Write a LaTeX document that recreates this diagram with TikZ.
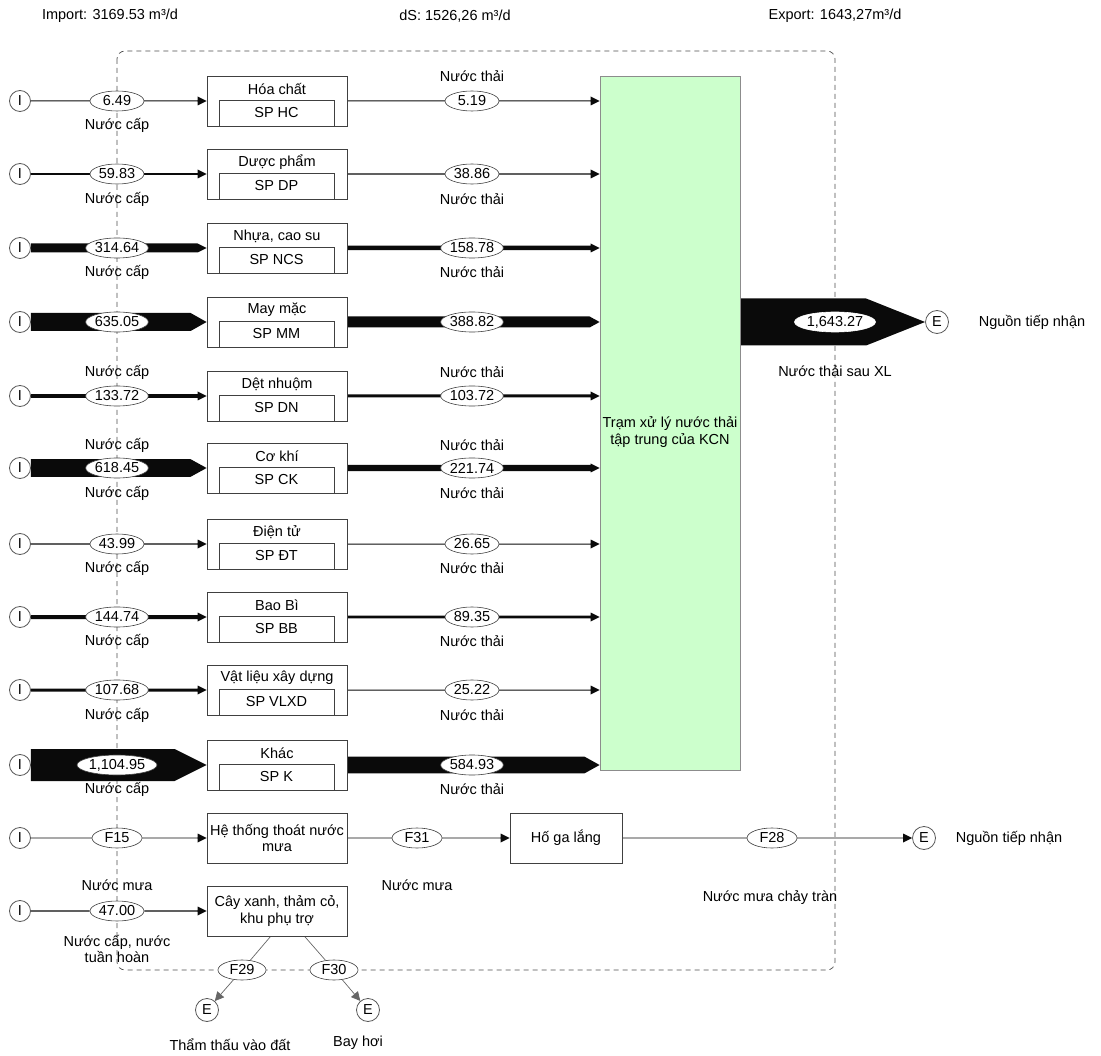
\documentclass[tikz,border=0pt]{standalone}
\usepackage{fontspec}
\setmainfont{Liberation Sans}
\usetikzlibrary{shapes.geometric,arrows.meta,calc,backgrounds}
\definecolor{lgreen}{RGB}{204,255,204}
\definecolor{lnc}{RGB}{10,10,10}
\tikzset{
  icirc/.style={circle, draw=black!65, fill=white, minimum size=21pt, inner sep=0pt, line width=0.8pt},
  ecirc/.style={circle, draw=black!65, fill=white, minimum size=23pt, inner sep=0pt, line width=0.8pt},
  lab/.style={ellipse, draw=black!75, fill=white, minimum width=54pt, minimum height=20pt, inner sep=0pt, line width=0.6pt},
  pbox/.style={rectangle, draw=black!75, fill=white, minimum width=140pt, minimum height=50pt, inner sep=0pt, line width=0.8pt},
  spbox/.style={rectangle, draw=black!75, minimum width=115pt, minimum height=26pt, inner sep=0pt, line width=0.7pt},
  txt/.style={inner sep=0pt},
  flowc/.style={fill=lnc},
  gline/.style={draw=black!60, line width=0.7pt},
}
\newcommand\fband[5]{\fill[flowc] ($#1+(0,-#3)$) -- ($#2+(-#5,-#3)$) -- ($#2+(-#5,-#4)$) -- #2 -- ($#2+(-#5,#4)$) -- ($#2+(-#5,#3)$) -- ($#1+(0,#3)$) -- cycle;}
\newcommand\prow[7]{%
  \node[icirc] (I#1) at (20,#2) {I};
  \node[lab,#7] (a#1) at (117,#2) {#5};
  \node[pbox] (b#1) at (277,#2) {};
  \node[txt] (n#1) at (277,#2-12) {#3};
  \node[spbox] (s#1) at (276.5,#2+12) {#4};
  \node[lab] (o#1) at (472,#2) {#6};
  \coordinate (t#1) at (g.west |- b#1.east);
}
\begin{document}
\begin{tikzpicture}[x=1pt,y=-1pt,font=\fontsize{14.5}{16.5}\selectfont]
\useasboundingbox (0,0) rectangle (1101,1056);

% top texts
\node[txt] (imp) at (110,16) {Import: 3169.53 m³/d};
\node[txt] (ds) at (455,16) {dS: 1526,26 m³/d};
\node[txt] (exp) at (835,16) {Export: 1643,27m³/d};

% treatment plant
\node[draw=black!45, fill=lgreen, minimum width=140pt, minimum height=694pt, inner sep=0pt, line width=0.8pt] (g) at (670,423) {};
\node[txt, align=center] (gt) at (670,432) {Trạm xử lý nước thải\\tập trung của KCN};

% rows
\prow{1}{101}{Hóa chất}{SP HC}{6.49}{5.19}{}
\prow{2}{174}{Dược phẩm}{SP DP}{59.83}{38.86}{}
\prow{3}{248}{Nhựa, cao su}{SP NCS}{314.64}{158.78}{}
\prow{4}{322}{May mặc}{SP MM}{635.05}{388.82}{}
\prow{5}{396}{Dệt nhuộm}{SP DN}{133.72}{103.72}{}
\prow{6}{468}{Cơ khí}{SP CK}{618.45}{221.74}{}
\prow{7}{544}{Điện tử}{SP ĐT}{43.99}{26.65}{}
\prow{8}{617}{Bao Bì}{SP BB}{144.74}{89.35}{}
\prow{9}{690}{Vật liệu xây dựng}{SP VLXD}{107.68}{25.22}{}
\prow{10}{765}{Khác}{SP K}{1,104.95}{584.93}{minimum width=80pt}

% row labels
\node[txt] (c1) at (117,125) {Nước cấp};
\node[txt] (w1) at (472,76) {Nước thải};
\node[txt] (c2) at (117,199) {Nước cấp};
\node[txt] (w2) at (472,199) {Nước thải};
\node[txt] (c3) at (117,272) {Nước cấp};
\node[txt] (w3) at (472,272) {Nước thải};
\node[txt] (c5) at (117,372) {Nước cấp};
\node[txt] (w5) at (472,372) {Nước thải};
\node[txt] (c6a) at (117,445) {Nước cấp};
\node[txt] (w6a) at (472,445) {Nước thải};
\node[txt] (c6b) at (117,493) {Nước cấp};
\node[txt] (w6b) at (472,493) {Nước thải};
\node[txt] (c7) at (117,568) {Nước cấp};
\node[txt] (w7) at (472,568) {Nước thải};
\node[txt] (c8) at (117,641) {Nước cấp};
\node[txt] (w8) at (472,641) {Nước thải};
\node[txt] (c9) at (117,715) {Nước cấp};
\node[txt] (w9) at (472,715) {Nước thải};
\node[txt] (c10) at (117,789) {Nước cấp};
\node[txt] (w10) at (472,789) {Nước thải};

% export
\node[ecirc] (E0) at (937,322) {E};
\coordinate (x0) at (g.east |- b4.east);
\node[lab, minimum width=81pt, draw=white] (ex) at (835,322) {1,643.27};
\node[txt] (nt0) at (1032,322) {Nguồn tiếp nhận};
\node[txt] (sx) at (835,371) {Nước thải sau XL};

% rain row
\node[icirc] (I11) at (20,838) {I};
\node[lab, minimum width=50pt] (f15) at (117,838) {F15};
\node[pbox, align=center] (h11) at (277,838) {Hệ thống thoát nước\\mưa};
\node[lab, minimum width=50pt] (f31) at (417,838) {F31};
\node[pbox, minimum width=112pt] (hg) at (566,838) {Hố ga lắng};
\node[lab, minimum width=50pt] (f28) at (772,838) {F28};
\node[ecirc] (E11) at (924,838) {E};
\node[txt] (nt11) at (1009,838) {Nguồn tiếp nhận};
\node[txt] (m1) at (117,885) {Nước mưa};
\node[txt] (m2) at (417,885) {Nước mưa};
\node[txt] (m3) at (770,898) {Nước mưa chảy tràn};

% green area row
\node[icirc] (I12) at (20,911) {I};
\node[lab] (a12) at (117,911) {47.00};
\node[pbox, align=center] (cx) at (277,911) {Cây xanh, thảm cỏ,\\khu phụ trợ};
\node[txt, align=center] (c12) at (117,949) {Nước cấp, nước\\tuần hoàn};
\node[lab, minimum width=48pt] (f29) at (242,970) {F29};
\node[lab, minimum width=48pt] (f30) at (334,970) {F30};
\node[ecirc] (E29) at (207,1010) {E};
\node[ecirc] (E30) at (368,1010) {E};
\node[txt] (tt) at (230,1045) {Thẩm thấu vào đất};
\node[txt] (bh) at (358,1043) {Bay hơi};
\coordinate (c29) at ($(cx.south west)+(64,0)$);
\coordinate (c30) at ($(cx.south west)+(98,0)$);

\begin{pgfonlayer}{background}
\draw[black!70, line width=0.7pt, dash pattern=on 5pt off 4pt, rounded corners=8pt] (117,51) rectangle (835,970);
% inputs
\fband{(I1.east)}{(b1.west)}{.5}{4.5}{9}
\fband{(I2.east)}{(b2.west)}{.8}{4.5}{9}
\fband{(I3.east)}{(b3.west)}{4.5}{4.5}{9}
\fband{(I4.east)}{(b4.west)}{9}{9}{16}
\fband{(I5.east)}{(b5.west)}{1.9}{4.5}{9}
\fband{(I6.east)}{(b6.west)}{8.8}{8.8}{16}
\fband{(I7.east)}{(b7.west)}{.65}{4.5}{9}
\fband{(I8.east)}{(b8.west)}{2}{4.5}{9}
\fband{(I9.east)}{(b9.west)}{1.5}{4.5}{9}
\fband{(I10.east)}{(b10.west)}{16}{16}{32}
% outputs
\fband{(b1.east)}{(t1)}{.5}{4.5}{9}
\fband{(b2.east)}{(t2)}{.55}{4.5}{9}
\fband{(b3.east)}{(t3)}{2.25}{4.5}{9}
\fband{(b4.east)}{(t4)}{5.5}{5.5}{10}
\fband{(b5.east)}{(t5)}{1.5}{4.5}{9}
\fband{(b6.east)}{(t6)}{3.2}{4.5}{9}
\fband{(b7.east)}{(t7)}{.5}{4.5}{9}
\fband{(b8.east)}{(t8)}{1.3}{4.5}{9}
\fband{(b9.east)}{(t9)}{.5}{4.5}{9}
\fband{(b10.east)}{(t10)}{8.3}{8.3}{15}
% export
\fband{(x0)}{(E0.west)}{23.5}{23.5}{59}
% rain
\fband{(I11.east)}{(h11.west)}{.45}{4.5}{9}
\fband{(h11.east)}{(hg.west)}{.45}{4.5}{9}
\fband{(hg.east)}{(E11.west)}{.45}{4.5}{9}
\fband{(I12.east)}{(a12.west)}{.6}{.6}{0.01}
\fband{(a12.east)}{(cx.west)}{.6}{4.5}{9}
\draw[gline] (c29) -- (f29);
\draw[gline] (c30) -- (f30);
\draw[gline, -{Triangle[length=9pt,width=9pt]}] (f29) -- (E29);
\draw[gline, -{Triangle[length=9pt,width=9pt]}] (f30) -- (E30);
\end{pgfonlayer}
\end{tikzpicture}
\end{document}
